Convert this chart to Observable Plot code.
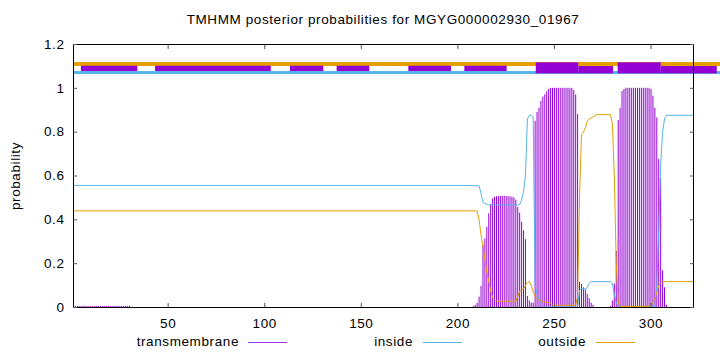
<!DOCTYPE html>
<html><head><meta charset="utf-8">
<script src="https://cdn.jsdelivr.net/npm/d3@7"></script>
<script src="https://cdn.jsdelivr.net/npm/@observablehq/plot@0.6"></script>
<style>
body{margin:0;background:#fff;}
#wrap{position:relative;width:720px;height:352px;font-family:"Liberation Sans",Arial,sans-serif;font-size:13.5px;letter-spacing:0.6px;color:#000;overflow:hidden;}
#wrap svg{position:absolute;left:0;top:0;}
.title{position:absolute;top:12px;left:73px;width:620px;text-align:center;line-height:16px;white-space:nowrap;}
.ylab{position:absolute;left:16px;top:176px;transform:translate(-50%,-50%) rotate(-90deg);white-space:nowrap;line-height:16px;}
.ltext{position:absolute;top:334px;line-height:16px;text-align:right;white-space:nowrap;}
.lline{position:absolute;top:342px;height:0;border-top:1px solid;width:39px;}
</style></head><body><div id="wrap"></div>
<script>
// ---- data ----
const titleText = "TMHMM posterior probabilities for MGYG000002930_01967";
const yLabel = "probability";
const seqLength = 322;
const xTicks = [50, 100, 150, 200, 250, 300];
const yTicks = [0, 0.2, 0.4, 0.6, 0.8, 1, 1.2];
const seriesNames = ["transmembrane", "inside", "outside"];
const seriesColors = ["#a23ee8", "#56b4e9", "#e69f00"];

// transmembrane posterior per residue, starting at residue tmStart
const tmStart = 205;
const tmValues = [
  0, 0, 0, 0.005, 0.01, 0.02, 0.047, 0.096, 0.283, 0.313,
  0.366, 0.427, 0.47, 0.496, 0.503, 0.505, 0.506, 0.507, 0.507, 0.507,
  0.507, 0.506, 0.505, 0.503, 0.5, 0.49, 0.456, 0.43, 0.39, 0.35,
  0.31, 0.05, 0.03, 0.02, 0.02, 0.85, 0.89, 0.91, 0.94, 0.96,
  0.97, 0.985, 0.995, 1, 1, 1, 1, 1, 1, 1,
  1, 1, 1, 1, 1, 0.99, 0.97, 0.88, 0.115, 0.105,
  0.09, 0.08, 0.06, 0.04, 0.02, 0.01, 0, 0, 0, 0,
  0, 0, 0, 0, 0.005, 0.03, 0.107, 0.256, 0.853, 0.908,
  0.986, 0.995, 1, 1, 1, 1, 1, 1, 1, 1,
  1, 1, 1, 1, 1, 0.995, 0.964, 0.91, 0.865, 0.676,
  0.59, 0.168, 0.09, 0.01
];
// faint transmembrane values near the N-terminus
const tmEarlyStart = 1;
const tmEarlyValues = [0.005, 0.005, 0.005, 0.005, 0.005, 0.005, 0.005, 0.005, 0.005, 0.005,
  0.005, 0.005, 0.005, 0.005, 0.005, 0.005, 0.005, 0.005, 0.005, 0.005,
  0.005, 0.005, 0.005, 0.005, 0.005, 0.005, 0.005, 0.005, 0.005, 0.005];

// inside posterior (residue, value)
const insideX = [1, 205, 211, 212, 213, 215, 216, 231, 232, 233, 234, 235, 236, 237, 238, 239, 240, 241, 242, 243, 244, 245, 262, 263, 264, 266, 267, 268, 269, 279, 280, 281, 282, 283, 302, 303, 304, 305, 306, 307, 308, 322];
const insideY = [0.557, 0.557, 0.555, 0.52, 0.48, 0.47, 0.468, 0.468, 0.47, 0.49, 0.53, 0.6, 0.86, 0.877, 0.877, 0.87, 0.1, 0.06, 0.04, 0.02, 0.01, 0.003, 0.003, 0.08, 0.085, 0.085, 0.09, 0.11, 0.118, 0.118, 0.11, 0.06, 0.02, 0.005, 0.003, 0.1, 0.35, 0.65, 0.8, 0.86, 0.877, 0.877];

// outside posterior (residue, value)
const outsideX = [1, 209, 210, 211, 212, 213, 214, 215, 216, 217, 218, 219, 220, 230, 231, 232, 233, 234, 235, 236, 237, 238, 239, 240, 241, 242, 243, 245, 248, 249, 261, 262, 263, 264, 265, 266, 267, 268, 270, 272, 279, 280, 281, 282, 283, 284, 299, 300, 301, 302, 303, 304, 305, 306, 322];
const outsideY = [0.441, 0.441, 0.44, 0.4, 0.33, 0.28, 0.22, 0.16, 0.12, 0.075, 0.045, 0.035, 0.029, 0.029, 0.05, 0.075, 0.08, 0.085, 0.1, 0.115, 0.118, 0.1, 0.07, 0.05, 0.04, 0.035, 0.03, 0.025, 0.02, 0.01, 0.01, 0.05, 0.5, 0.79, 0.8, 0.82, 0.85, 0.86, 0.87, 0.88, 0.88, 0.84, 0.6, 0.2, 0.02, 0.005, 0.005, 0.01, 0.025, 0.04, 0.07, 0.1, 0.112, 0.118, 0.118];

// topology bar segments above the plot
const outsideBarStart = [1];
const outsideBarEnd = [340];
const insideBarStart = [1];
const insideBarEnd = [340];
const tmBarStart = [5.1, 43.5, 113.3, 137.5, 174.6, 203.6, 240.6, 262.6, 283, 305.3];
const tmBarEnd = [34.3, 103.4, 130.6, 154.4, 196.7, 225.5, 262.6, 280.6, 305.3, 334.3];
const tmBarKind = ["thin", "thin", "thin", "thin", "thin", "thin", "thick", "mid", "thick", "mid"];

// ---- build ----
const bandY = {outside: [1.0995, 1.1177], inside: [1.063, 1.0766], thin: [1.0766, 1.1008], thick: [1.0661, 1.1163], mid: [1.0661, 1.0995]};
const tmRows = tmValues.map((p, i) => ({r: tmStart + i, p})).concat(tmEarlyValues.map((p, i) => ({r: tmEarlyStart + i, p}))).filter(d => d.p > 0);
const insideRows = insideX.map((x, i) => ({x, y: insideY[i]}));
const outsideRows = outsideX.map((x, i) => ({x, y: outsideY[i]}));
const outBar = outsideBarStart.map((s, i) => ({x1: s, x2: outsideBarEnd[i], y1: bandY.outside[0], y2: bandY.outside[1]}));
const inBar = insideBarStart.map((s, i) => ({x1: s, x2: insideBarEnd[i], y1: bandY.inside[0], y2: bandY.inside[1]}));
const tmBar = tmBarStart.map((s, i) => ({x1: s, x2: tmBarEnd[i], y1: bandY[tmBarKind[i]][0], y2: bandY[tmBarKind[i]][1]}));

const font = {fontFamily: "'Liberation Sans', Arial, sans-serif", fontSize: "13.5px", letterSpacing: "0.6px"};
const chart = Plot.plot({
  width: 720, height: 352,
  marginLeft: 73, marginRight: 27, marginTop: 44, marginBottom: 45,
  x: {domain: [1, seqLength]},
  y: {domain: [0, 1.2]},
  style: {...font, background: "transparent", color: "#000", overflow: "visible"},
  marks: [
    Plot.ruleX(tmRows, {x: "r", y1: 0, y2: "p", stroke: "#9400d3", strokeWidth: 1}),
    Plot.line(insideRows, {x: "x", y: "y", stroke: seriesColors[1], strokeWidth: 1}),
    Plot.line(outsideRows, {x: "x", y: "y", stroke: seriesColors[2], strokeWidth: 1}),
    Plot.rect(outBar, {x1: "x1", x2: "x2", y1: "y1", y2: "y2", fill: seriesColors[2]}),
    Plot.rect(inBar, {x1: "x1", x2: "x2", y1: "y1", y2: "y2", fill: seriesColors[1]}),
    Plot.rect(tmBar, {x1: "x1", x2: "x2", y1: "y1", y2: "y2", fill: "#9400d3"}),
    Plot.frame({stroke: "#000"}),
    Plot.axisX({anchor: "bottom", ticks: xTicks, tickSize: 0, tickPadding: 11, label: null}),
    Plot.axisX({anchor: "bottom", ticks: xTicks, tickSize: 4, dy: -4, tickFormat: () => "", label: null, stroke: "#555"}),
    Plot.axisX({anchor: "top", ticks: xTicks, tickSize: 4, dy: 4, tickFormat: () => "", label: null, stroke: "#555"}),
    Plot.axisY({anchor: "left", ticks: yTicks, tickSize: 0, tickPadding: 9, label: null, tickFormat: d => String(d)}),
    Plot.axisY({anchor: "left", ticks: yTicks, tickSize: 4, dx: 4, tickFormat: () => "", label: null, stroke: "#555"}),
    Plot.axisY({anchor: "right", ticks: yTicks, tickSize: 4, dx: -4, tickFormat: () => "", label: null, stroke: "#555"})
  ]
});
const wrap = document.getElementById("wrap");
wrap.appendChild(chart);

const t = document.createElement("div"); t.className = "title"; t.textContent = titleText; wrap.appendChild(t);
const yl = document.createElement("div"); yl.className = "ylab"; yl.textContent = yLabel; wrap.appendChild(yl);
const textRight = [239, 413, 586];
const lineLeft = [247.5, 422.5, 596];
seriesNames.forEach((name, i) => {
  const s = document.createElement("div"); s.className = "ltext"; s.textContent = name;
  s.style.right = (720 - textRight[i]) + "px"; wrap.appendChild(s);
  const l = document.createElement("div"); l.className = "lline";
  l.style.left = lineLeft[i] + "px"; l.style.borderTopColor = seriesColors[i]; wrap.appendChild(l);
});
</script></body></html>
